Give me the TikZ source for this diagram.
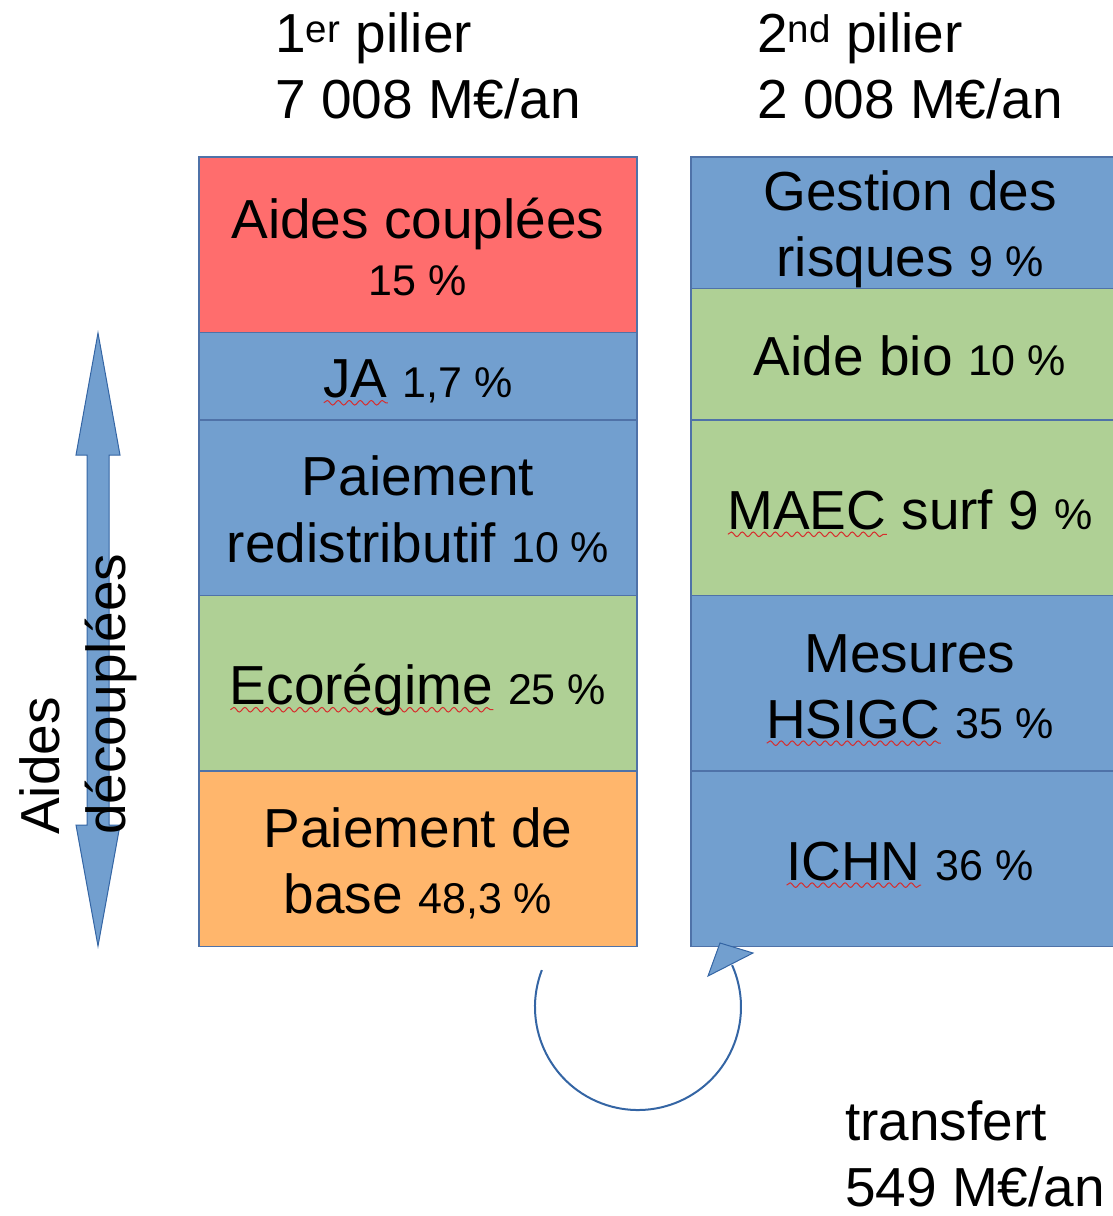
\documentclass[tikz,border=0pt]{standalone}
\usepackage{fontspec}
\setmainfont{Liberation Sans}
\usetikzlibrary{positioning, decorations.pathmorphing}
\definecolor{borderColor}{RGB}{79,114,168}
\definecolor{arrowLine}{RGB}{52,101,164}
\definecolor{blueFill}{RGB}{114,159,207}
\definecolor{greenFill}{RGB}{175,208,149}
\definecolor{redFill}{RGB}{255,109,109}
\definecolor{orangeFill}{RGB}{255,182,108}
\definecolor{spellRed}{RGB}{215,45,45}
\newcommand{\mainFont}{\fontsize{55}{66}\selectfont}
\newcommand{\pctFont}{\fontsize{43}{52}\selectfont}
\newcommand{\pct}[1]{{\pctFont #1 \%}}
\tikzstyle{canvas} = [x = 1pt, y = -1pt]
\tikzstyle{blockStyle} = [draw=borderColor, line width=1.5pt, minimum width=438pt, inner sep=0pt, outer sep=0pt, align=center, font=\mainFont, text depth=12pt]
\tikzstyle{oneLine} = [text height=55pt]
\tikzstyle{twoLines} = [text height=122pt]
\tikzstyle{headerText} = [anchor=base west, align=left, inner sep=0pt, font=\mainFont]
\tikzstyle{blockArrow} = [fill=blueFill, draw=arrowLine, line width=1pt]
\tikzstyle{transferLoop} = [draw=arrowLine, line width=2pt]
\tikzstyle{spellWave} = [draw=spellRed, line width=1pt, decorate, decoration={snake, segment length=11pt, amplitude=2.3pt}]
\newsavebox{\spellBox}
\newlength{\spellWidth}
\newcommand{\spell}[1]{\sbox{\spellBox}{#1}\setlength{\spellWidth}{\wd\spellBox}%
  \rlap{\pgfinterruptpicture\tikz[baseline=0pt] \draw [spellWave] (0pt,-5pt) -- (\spellWidth,-5pt);\endpgfinterruptpicture}\usebox{\spellBox}}
\newcommand{\unitH}{87.7pt}
\newcommand{\firstBlock}[5]{\node [blockStyle, #2, minimum height=#3*\unitH, anchor=north west] (#1) at #4 {#5};}
\newcommand{\nextBlock}[5]{\node [blockStyle, #2, minimum height=#3*\unitH, below=0pt of #4] (#1) {#5};}

\begin{document}
\begin{tikzpicture}[canvas]
            \useasboundingbox (0,0) rectangle (1113,1216);
            \clip (0,0) rectangle (1113,1216);

            % 1er pilier
            \node [headerText] (pillarOne) at (275,118) {1\textsuperscript{er} pilier\\7 008 M€/an};
            \firstBlock{coupled}{fill=redFill, text height=113pt}{2}{(199,157)}{Aides couplées\\[-9pt]\pct{15}}
            \nextBlock{ja}{fill=blueFill, oneLine}{1}{coupled}{\spell{JA} \pct{1,7}}
            \nextBlock{redistrib}{fill=blueFill, twoLines}{2}{ja}{Paiement\\[1pt]redistributif \pct{10}}
            \nextBlock{ecoregime}{fill=greenFill, oneLine}{2}{redistrib}{\spell{Ecorégime} \pct{25}}
            \nextBlock{basePay}{fill=orangeFill, twoLines}{2}{ecoregime}{Paiement de\\base \pct{48,3}}

            % 2nd pilier
            \node [headerText] (pillarTwo) at (757,118) {2\textsuperscript{nd} pilier\\2 008 M€/an};
            \firstBlock{risk}{fill=blueFill, text height=119pt}{1.5}{(691,157)}{Gestion des\\risques \pct{9}}
            \nextBlock{bio}{fill=greenFill, oneLine}{1.5}{risk}{Aide bio \pct{10}}
            \nextBlock{maec}{fill=greenFill, oneLine}{2}{bio}{\spell{MAEC} surf 9 {\pctFont\%}}
            \nextBlock{hsigc}{fill=blueFill, twoLines}{2}{maec}{Mesures\\\spell{HSIGC} \pct{35}}
            \nextBlock{ichn}{fill=blueFill, oneLine}{2}{hsigc}{\spell{ICHN} \pct{36}}

            % aides decouplees
            \filldraw [blockArrow] (98,333) -- (120,455) -- (109,455) -- (109,825) -- (120,825)
              -- (98,946) -- (76,825) -- (87,825) -- (87,455) -- (76,455) -- cycle;
            \node [headerText, rotate=90] (decoupled) at (125,835) {Aides\\découplées};

            % transfert
            \coordinate (loopCenter) at (638,1007);
            \draw [transferLoop] (loopCenter) ++(201:103) arc [start angle=201, end angle=-24, radius=103];
            \filldraw [blockArrow] (720,943) -- (753,953) -- (708,976) -- cycle;
            \node [headerText] (transfer) at (845,1206) {transfert\\549 M€/an};
          \end{tikzpicture}
\end{document}
